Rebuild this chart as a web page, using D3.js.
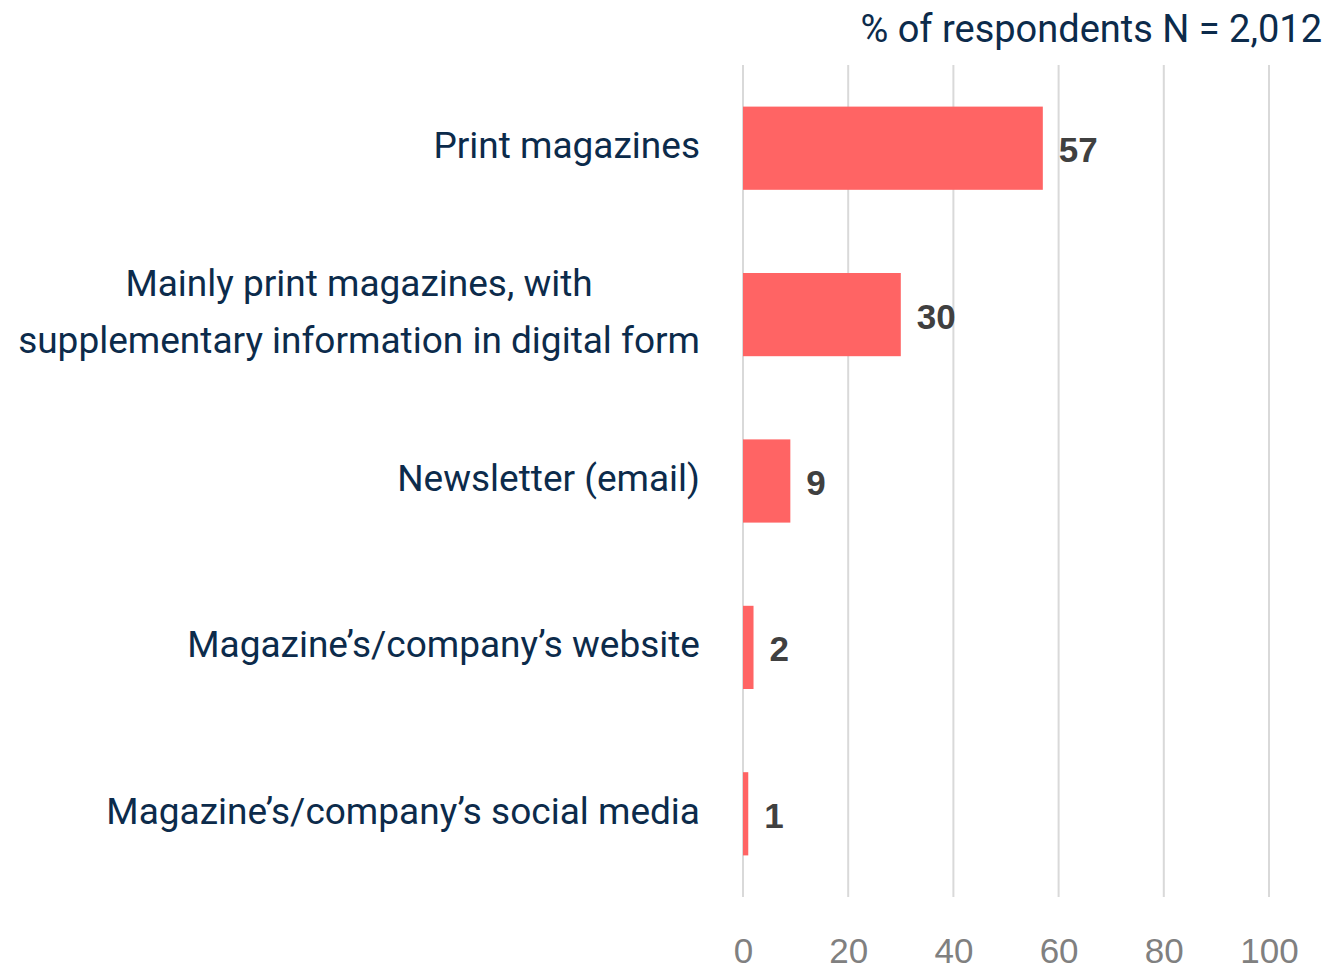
<!DOCTYPE html>
<html>
<head>
<meta charset="utf-8">
<script src="https://cdn.jsdelivr.net/npm/d3@7"></script>
<style>
  html, body { margin: 0; padding: 0; background: #ffffff; }
  svg { display: block; }
</style>
</head>
<body>
<svg id="chart" width="1329" height="970"></svg>
<script>
// Preferred format for receiving magazine content, % of respondents
const categories = [
  ["Print magazines"],
  ["Mainly print magazines, with", "supplementary information in digital form"],
  ["Newsletter (email)"],
  ["Magazine\u2019s/company\u2019s website"],
  ["Magazine\u2019s/company\u2019s social media"]
];
const values = [57, 30, 9, 2, 1];
const tickValues = [0, 20, 40, 60, 80, 100];
const headerText = "% of respondents N = 2,012";

const svg = d3.select("#chart");
const labelFont = "Roboto, 'Noto Sans', sans-serif";
const numberFont = "'Liberation Sans', Arial, sans-serif";

const x = d3.scaleLinear().domain([0, 100]).range([743, 1269]);
const y = d3.scaleBand()
  .domain(d3.range(categories.length))
  .range([65, 897])
  .paddingInner(0.5)
  .paddingOuter(0.25);

// vertical gridlines
svg.append("g")
  .selectAll("line")
  .data(tickValues)
  .join("line")
  .attr("x1", d => x(d)).attr("x2", d => x(d))
  .attr("y1", 65).attr("y2", 897)
  .attr("stroke", "#d9d9d9")
  .attr("stroke-width", 2);

// x-axis tick labels
const xAxis = d3.axisBottom(x).tickValues(tickValues).tickSize(0).tickPadding(0);
const gx = svg.append("g").attr("transform", "translate(0,963)").call(xAxis);
gx.select(".domain").remove();
gx.selectAll("text")
  .attr("y", 0)
  .attr("dy", "0")
  .attr("fill", "#808080")
  .style("font-family", numberFont)
  .style("font-size", "35px");

// bars
svg.append("g")
  .selectAll("rect")
  .data(values)
  .join("rect")
  .attr("x", x(0))
  .attr("y", (d, i) => y(i))
  .attr("width", d => x(d) - x(0))
  .attr("height", y.bandwidth())
  .attr("fill", "#ff6464");

// value labels
svg.append("g")
  .selectAll("text")
  .data(values)
  .join("text")
  .attr("x", d => x(d) + 16)
  .attr("y", (d, i) => y(i) + y.bandwidth() / 2 + 14)
  .attr("fill", "#404040")
  .style("font-family", numberFont)
  .style("font-weight", "bold")
  .style("font-size", "35px")
  .text(d => d);

// category labels: block right-aligned to the bars, lines centred within the block
const lineGap = 57;
const labelRight = 700;
const cat = svg.append("g")
  .selectAll("text")
  .data(categories)
  .join("text")
  .attr("text-anchor", "middle")
  .attr("fill", "#0c2b4b")
  .style("font-family", labelFont)
  .style("font-size", "37px")
  .attr("transform", (d, i) => `translate(0,${y(i) + y.bandwidth() / 2 - 3})`);
cat.selectAll("tspan")
  .data(d => d.map((t, k) => ({ t, k, n: d.length })))
  .join("tspan")
  .attr("y", d => (d.k - (d.n - 1) / 2) * lineGap)
  .attr("dy", "0.35em")
  .text(d => d.t);
cat.each(function () {
  const spans = d3.select(this).selectAll("tspan");
  const widest = d3.max(spans.nodes(), n => n.getComputedTextLength());
  spans.attr("x", labelRight - widest / 2);
});

// header note
svg.append("text")
  .attr("x", 1322)
  .attr("y", 42)
  .attr("text-anchor", "end")
  .attr("fill", "#0c2b4b")
  .style("font-family", labelFont)
  .style("font-size", "38px")
  .text(headerText);
</script>
</body>
</html>
